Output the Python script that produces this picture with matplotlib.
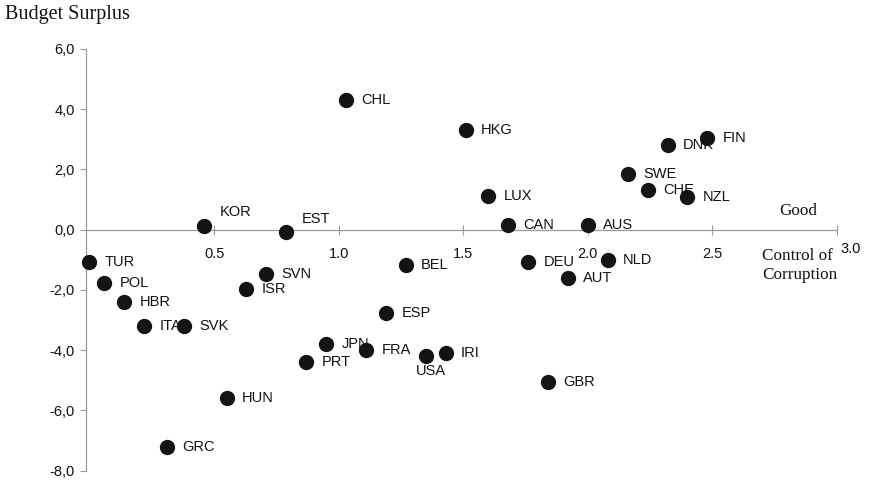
import matplotlib
matplotlib.use("Agg")
import matplotlib.pyplot as plt
from matplotlib.ticker import FuncFormatter

countries = ["TUR", "POL", "HBR", "ITA", "SVK", "HUN", "GRC", "ISR", "SVN", "KOR",
             "EST", "CHL", "HKG", "LUX", "CAN", "BEL", "DEU", "AUT", "ESP", "JPN",
             "FRA", "PRT", "USA", "IRI", "GBR", "AUS", "NLD", "SWE", "CHE", "NZL",
             "DNK", "FIN"]
corruption = [0.00, 0.06, 0.14, 0.22, 0.38, 0.55, 0.31, 0.63, 0.71, 0.46,
              0.79, 1.03, 1.51, 1.60, 1.68, 1.27, 1.76, 1.92, 1.19, 0.95,
              1.11, 0.87, 1.35, 1.43, 1.84, 2.00, 2.08, 2.16, 2.24, 2.40,
              2.32, 2.48]
surplus = [-1.08, -1.77, -2.41, -3.21, -3.21, -5.59, -7.20, -1.98, -1.47, 0.13,
           -0.09, 4.32, 3.32, 1.13, 0.16, -1.17, -1.08, -1.60, -2.78, -3.80,
           -3.99, -4.39, -4.19, -4.10, -5.07, 0.16, -1.00, 1.84, 1.32, 1.10,
           2.81, 3.04]
x_ticks = [0.5, 1.0, 1.5, 2.0, 2.5, 3.0]
y_ticks = [-8, -6, -4, -2, 0, 2, 4, 6]

# label offsets in points (default: right of the dot)
special = {"KOR": (11, 10, "left"), "EST": (11, 10, "left"), "USA": (4, -11, "center")}

sans = "Liberation Sans"
serif = "Liberation Serif"

fig = plt.figure(figsize=(8.69, 4.8), dpi=100)
ax = fig.add_axes([86 / 869, 9.3 / 480, (837 - 86) / 869, (470.7 - 49) / 480])

ax.scatter(corruption, surplus, s=100, color="#141414", zorder=3, clip_on=False)

for name, x, y in zip(countries, corruption, surplus):
    dx, dy, ha = special.get(name, (11, 0, "left"))
    ax.annotate(name, (x, y), xytext=(dx, dy), textcoords="offset points",
                ha=ha, va="center", fontsize=10.5, family=sans, color="#111111")

ax.set_xlim(-0.014, 3.0)
ax.set_ylim(-8, 6)

ax.spines["top"].set_visible(False)
ax.spines["right"].set_visible(False)
ax.spines["bottom"].set_position(("data", 0))
for s in ("left", "bottom"):
    ax.spines[s].set_color("#9a9a9a")
    ax.spines[s].set_linewidth(0.9)

ax.set_yticks(y_ticks)
ax.yaxis.set_major_formatter(FuncFormatter(lambda v, p: f"{v:.1f}".replace(".", ",")))
ax.tick_params(axis="y", direction="out", length=4, color="#9a9a9a", pad=4,
               labelsize=10.5, labelcolor="#111111")

ax.set_xticks(x_ticks)
ax.set_xticklabels([f"{v:.1f}" if v < 3 else "" for v in x_ticks])
ax.tick_params(axis="x", direction="inout", length=7, color="#9a9a9a", pad=9,
               labelsize=10.5, labelcolor="#111111")
for lab in ax.get_xticklabels() + ax.get_yticklabels():
    lab.set_family(sans)

# last x tick label sits a bit to the right in the original
ax.annotate(f"{x_ticks[-1]:.1f}", (x_ticks[-1], 0), xytext=(10, -14),
            textcoords="offset points", ha="center", va="center",
            fontsize=10.5, family=sans, color="#111111", annotation_clip=False)

fig.text(5 / 869, 1 - 15 / 480, "Budget Surplus", family=serif, fontsize=14.5,
         va="center", ha="left", color="#111111")
ax.text(2.77, 0.63, "Good", family=serif, fontsize=12.3, va="center", ha="left",
        color="#111111")
ax.text(2.70, -1.19, "Control of\nCorruption", family=serif, fontsize=12.3,
        va="center", ha="left", linespacing=1.2, color="#111111")

fig.savefig("out.png", dpi=100)
